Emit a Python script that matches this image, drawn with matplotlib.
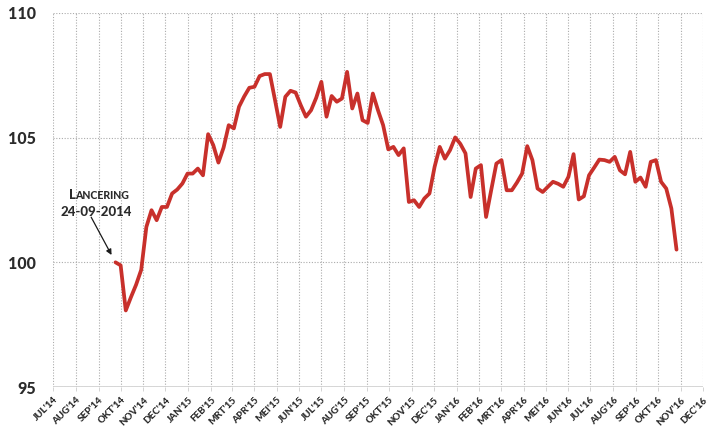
import matplotlib

matplotlib.use("Agg")
import matplotlib.pyplot as plt
import pandas as pd

# ---------------------------------------------------------------------------
# Data (weekly index, launched 24-09-2014 = 100)
# ---------------------------------------------------------------------------

START_DATE = "2014-09-24"

INDEX_VALUES = [
    100.0, 99.88, 98.07, 98.6, 99.1, 99.7, 101.42, 102.09, 101.69, 102.22,
    102.22, 102.76, 102.92, 103.16, 103.56, 103.56, 103.76, 103.49, 105.14, 104.7,
    104.0, 104.6, 105.5, 105.37, 106.24, 106.65, 107.0, 107.04, 107.47, 107.55,
    107.55, 106.5, 105.43, 106.64, 106.88, 106.81, 106.3, 105.84, 106.1, 106.6,
    107.24, 105.84, 106.67, 106.44, 106.57, 107.64, 106.17, 106.77, 105.70, 105.59,
    106.77, 106.10, 105.50, 104.53, 104.63, 104.30, 104.57, 102.42, 102.49, 102.22,
    102.56, 102.76, 103.83, 104.63, 104.16, 104.5, 105.01, 104.75, 104.37, 102.62,
    103.76, 103.90, 101.82, 102.9, 103.96, 104.10, 102.89, 102.89, 103.2, 103.56,
    104.66, 104.10, 102.96, 102.82, 103.03, 103.23, 103.15, 103.03, 103.43, 104.34,
    102.52, 102.65, 103.49, 103.8, 104.12, 104.10, 104.03, 104.23, 103.69, 103.53,
    104.43, 103.23, 103.40, 103.03, 104.03, 104.10, 103.23, 102.96, 102.16, 100.51,
]

MONTH_LABELS = [
    "JUL'14", "AUG'14", "SEP'14", "OKT'14", "NOV'14", "DEC'14",
    "JAN'15", "FEB'15", "MRT'15", "APR'15", "MEI'15", "JUN'15",
    "JUL'15", "AUG'15", "SEP'15", "OKT'15", "NOV'15", "DEC'15",
    "JAN'16", "FEB'16", "MRT'16", "APR'16", "MEI'16", "JUN'16",
    "JUL'16", "AUG'16", "SEP'16", "OKT'16", "NOV'16", "DEC'16",
]

Y_TICKS = [95, 100, 105, 110]

LINE_COLOR = "#C8302B"
GRID_COLOR = "#ababab"
TEXT_COLOR = "#2b2b2b"

plt.rcParams["font.family"] = ["Lato", "DejaVu Sans"]

dates = pd.date_range(START_DATE, periods=len(INDEX_VALUES), freq="7D")
months = pd.date_range("2014-07-01", periods=len(MONTH_LABELS), freq="MS")

# ---------------------------------------------------------------------------
# Plot
# ---------------------------------------------------------------------------

fig = plt.figure(figsize=(7.15, 4.30), dpi=100)
ax = fig.add_axes([0.0741, 0.10, 0.9091, 0.8698])

for m in months:
    ax.axvline(m, color=GRID_COLOR, linestyle=(0, (1, 1.5)), linewidth=0.8, zorder=1)
for y in Y_TICKS:
    ax.axhline(y, color=GRID_COLOR, linestyle=(0, (1, 1.5)), linewidth=0.8, zorder=1)
ax.axhline(Y_TICKS[0], color="#cfcfcf", linewidth=1.2, zorder=1)

ax.plot(dates, INDEX_VALUES, color=LINE_COLOR, linewidth=2.7,
        solid_joinstyle="round", solid_capstyle="round", zorder=3)

ax.set_xlim(months[0], months[-1])
ax.set_ylim(Y_TICKS[0], Y_TICKS[-1])
ax.set_xticks(months)
ax.set_xticklabels(MONTH_LABELS, rotation=45, ha="right", va="top",
                   rotation_mode="anchor", fontsize=7, fontweight="black",
                   color=TEXT_COLOR)
ax.set_yticks(Y_TICKS)
ax.set_yticklabels([str(v) for v in Y_TICKS], fontsize=11.5,
                   fontweight="black", color=TEXT_COLOR)
ax.tick_params(axis="y", length=0, pad=12)
ax.tick_params(axis="x", length=3, width=0.6, color="#cccccc", pad=3)
for s in ax.spines.values():
    s.set_visible(False)

# Launch annotation
ax.annotate(
    "",
    xy=(dates[0], INDEX_VALUES[0]),
    xytext=(-17.5, 32.5),
    textcoords="offset points",
    arrowprops=dict(arrowstyle="-|>", color="#1a1a1a", lw=0.9,
                    shrinkA=0, shrinkB=6, mutation_scale=8),
    zorder=4,
)
fig.text(75.5 / 715, 1 - 199 / 430, "L", ha="right", va="baseline",
         fontsize=9.5, fontweight="black", color=TEXT_COLOR)
fig.text(75.5 / 715, 1 - 199 / 430, "ANCERING", ha="left", va="baseline",
         fontsize=7.6, fontweight="black", color=TEXT_COLOR)
fig.text(96 / 715, 1 - 216 / 430, "24-09-2014", ha="center", va="baseline",
         fontsize=9.5, fontweight="black", color=TEXT_COLOR)

fig.savefig("out.png", dpi=100)
plt.close(fig)
